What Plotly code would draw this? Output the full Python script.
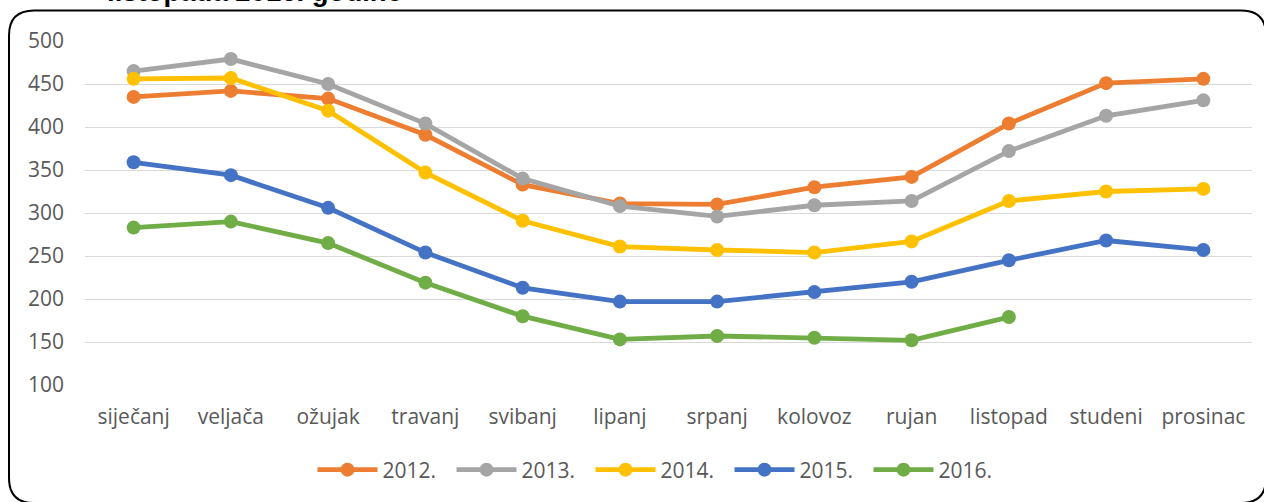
import plotly.graph_objects as go

months = ["siječanj", "veljača", "ožujak", "travanj", "svibanj", "lipanj",
          "srpanj", "kolovoz", "rujan", "listopad", "studeni", "prosinac"]
y2012 = [435, 442, 433, 391, 333, 311, 310, 330, 342, 404, 451, 456]
y2013 = [465, 479, 450, 404, 340, 308, 296, 309, 314, 372, 413, 431]
y2014 = [456, 457, 419, 347, 291, 261, 257, 254, 267, 314, 325, 328]
y2015 = [359, 344, 306, 254, 213, 197, 197, 208, 220, 245, 268, 257]
y2016 = [283, 290, 265, 219, 180, 153, 157, 155, 152, 179, None, None]

series = [
    ("2012.", y2012, "#ED7D31"),
    ("2013.", y2013, "#A5A5A5"),
    ("2014.", y2014, "#FFC000"),
    ("2015.", y2015, "#4472C4"),
    ("2016.", y2016, "#70AD47"),
]

FONT = "Open Sans"
fig = go.Figure()
for name, vals, col in series:
    fig.add_trace(go.Scatter(
        x=months, y=vals, name=name, mode="lines+markers",
        line=dict(color=col, width=4.8),
        marker=dict(color=col, size=14),
        connectgaps=False,
    ))

W, H = 1264, 502
L, R, T, B = 85, 12, 41, 117
pw, ph = W - L - R, H - T - B


def px(x):
    return (x - L) / pw


def py(y):
    return (H - B - y) / ph


x0, x1, y0, y1, r = px(9), px(1266), py(10.5), py(503), 25 / pw
ry = 25 / ph
path = (f"M {x0},{y0 - ry} L {x0},{y1 + ry} Q {x0},{y1} {x0 + r},{y1} "
        f"L {x1 - r},{y1} Q {x1},{y1} {x1},{y1 + ry} L {x1},{y0 - ry} "
        f"Q {x1},{y0} {x1 - r},{y0} L {x0 + r},{y0} Q {x0},{y0} {x0},{y0 - ry} Z")

fig.update_layout(
    width=W, height=H,
    margin=dict(l=L, r=R, t=T, b=B, autoexpand=False),
    paper_bgcolor="white", plot_bgcolor="white",
    font=dict(family=FONT, size=21, color="#595959"),
    showlegend=True,
    legend=dict(orientation="h", x=px(660), xanchor="center", y=py(470), yanchor="middle",
                font=dict(family=FONT, size=21, color="#595959"),
                itemwidth=60, tracegroupgap=0, entrywidth=64),
    xaxis=dict(range=[-0.5, 11.5], showgrid=False, zeroline=False, showline=False,
               ticks="", automargin=False, ticklabelstandoff=17,
               tickfont=dict(family=FONT, size=21, color="#595959")),
    yaxis=dict(range=[100, 500], dtick=50, showgrid=True, gridcolor="#D9D9D9",
               gridwidth=1.3, zeroline=False, showline=False, ticks="",
               automargin=False, ticklabelstandoff=20,
               tickfont=dict(family=FONT, size=21, color="#595959")),
    shapes=[dict(type="path", path=path, xref="paper", yref="paper",
                 line=dict(color="black", width=2), layer="below")],
    annotations=[dict(text="<b>listopada 2016. godine</b>", xref="paper", yref="paper",
                      x=px(254), y=py(-8), xanchor="center", yanchor="middle",
                      showarrow=False,
                      font=dict(family="Liberation Sans", size=27.5, color="black"))],
)

fig.write_html("out.html", post_script="document.body.style.margin='0';",
               config={"displayModeBar": False})
